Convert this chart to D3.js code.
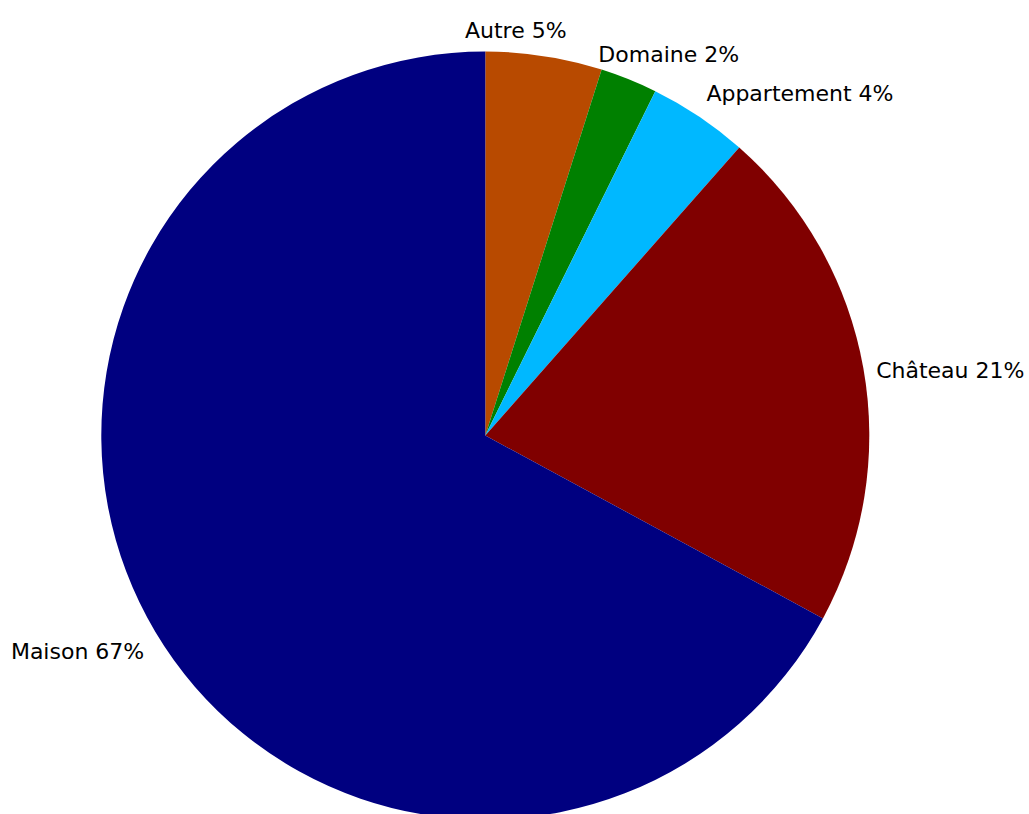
<!DOCTYPE html>
<html>
<head>
<meta charset="utf-8">
<script src="https://cdn.jsdelivr.net/npm/d3@7"></script>
<style>
  html, body { margin: 0; padding: 0; background: #fff; }
  svg { display: block; }
  text { font-family: "DejaVu Sans", Verdana, sans-serif; font-size: 22px; fill: #000; }
</style>
</head>
<body>
<svg id="chart" width="1029" height="814"></svg>
<script>
const categories = ["Autre", "Domaine", "Appartement", "Château", "Maison"];
const values = [4.9, 2.4, 4.2, 21.4, 67.1];
const colors = ["#b84a00", "#008000", "#00b8ff", "#800000", "#000080"];

const W = 1029, H = 814;
const cx = 485.3, cy = 435.5, R = 384;

const svg = d3.select("#chart");
const g = svg.append("g").attr("transform", `translate(${cx},${cy})`);

const data = categories.map((c, i) => ({ name: c, value: values[i], color: colors[i] }));
const total = d3.sum(values);

const pie = d3.pie().value(d => d.value).sort(null);
const arcs = pie(data);
const arc = d3.arc().innerRadius(0).outerRadius(R);

g.selectAll("path.slice")
  .data(arcs)
  .enter().append("path")
  .attr("class", "slice")
  .attr("d", arc)
  .attr("fill", d => d.data.color);

// labels
const labelR = R + 13;
arcs.forEach(a => {
  const mid = (a.startAngle + a.endAngle) / 2;
  const s = Math.sin(mid), c = Math.cos(mid);
  const px = labelR * s, py = -labelR * c;
  const t = g.append("text")
    .text(`${a.data.name} ${Math.round(a.data.value / total * 100)}%`);
  const bb = t.node().getBBox();
  const w = bb.width, h = bb.height;
  const deg = mid * 180 / Math.PI;
  let left, top;
  if (s >= 0) {
    // right half: shift left near the top to avoid crowding
    const f = Math.max(0, Math.min(1, (28 - deg) / 24));
    left = px - w * f;
  } else {
    left = px - w;
  }
  if (c >= 0) top = py - h; else top = py;
  if (Math.abs(c) < 0.3) top = py - h / 2 + 4;
  t.attr("x", left - bb.x).attr("y", top - bb.y);
});
</script>
</body>
</html>
